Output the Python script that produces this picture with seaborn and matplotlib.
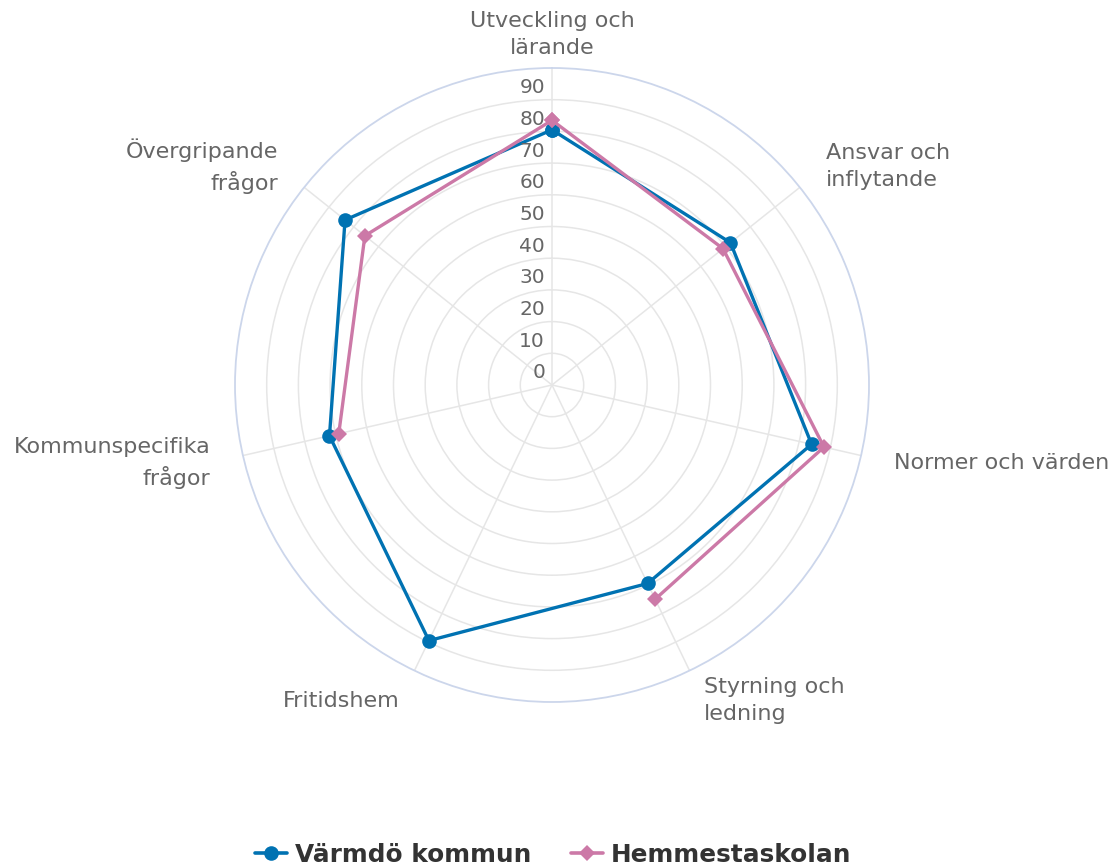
import numpy as np
import pandas as pd
import matplotlib
matplotlib.use("Agg")
import matplotlib.pyplot as plt
from matplotlib.lines import Line2D
import seaborn as sns

# Survey areas and average scores per organisation
categories = [
    "Utveckling och\nlärande",
    "Ansvar och\ninflytande",
    "Normer och värden",
    "Styrning och\nledning",
    "Fritidshem",
    "Kommunspecifika\nfrågor",
    "Övergripande\nfrågor",
]
series_names = ["Värmdö kommun", "Hemmestaskolan"]
varmdo = [80.5, 72, 84, 69.5, 89.5, 72, 83.5]
hemmesta = [83.5, 69, 88, 75, np.nan, 69, 75.5]
radial_ticks = [0, 10, 20, 30, 40, 50, 60, 70, 80, 90]

colors = {"Värmdö kommun": "#0072B2", "Hemmestaskolan": "#CC79A7"}
markers = {"Värmdö kommun": "o", "Hemmestaskolan": "D"}
msizes = {"Värmdö kommun": 10.5, "Hemmestaskolan": 8}

sns.set_style("white")
plt.rcParams["font.family"] = ["DejaVu Sans"]

n = len(categories)
angles = np.arange(n) * 2 * np.pi / n


def segments(values):
    """Split a closed polygon into runs of consecutive non-missing points."""
    vals = list(values) + [values[0]]
    thetas = list(angles) + [2 * np.pi]
    segs, cur = [], []
    for t, v in zip(thetas, vals):
        if np.isnan(v):
            if cur:
                segs.append(cur)
            cur = []
        else:
            cur.append((t, v))
    if cur:
        segs.append(cur)
    rows = []
    for i, seg in enumerate(segs):
        for t, v in seg:
            rows.append({"theta": t, "value": v, "segment": i})
    return pd.DataFrame(rows)


fig = plt.figure(figsize=(11.15, 8.68), dpi=100)
W, H = 1115, 868
cx, cy, R = 552, 385, 317
ax = fig.add_axes([(cx - R) / W, (H - cy - R) / H, 2 * R / W, 2 * R / H],
                  projection="polar")
ax.set_theta_zero_location("N")
ax.set_theta_direction(-1)
ax.set_ylim(0, 100)

# Grid: concentric rings and spokes
ax.set_yticks(radial_ticks[1:])
ax.set_yticklabels([])
ax.set_xticks(angles)
ax.set_xticklabels([])
ax.grid(True, color="#e6e6e6", linewidth=1.1)
ax.spines["polar"].set_color("#ccd6eb")
ax.spines["polar"].set_linewidth(1.3)
ax.tick_params(length=0)

for name, vals in zip(series_names, [varmdo, hemmesta]):
    df = segments(vals)
    for seg_id, seg in df.groupby("segment"):
        sns.lineplot(data=seg, x="theta", y="value", ax=ax, sort=False,
                     estimator=None, color=colors[name], linewidth=2.4,
                     marker=markers[name], markersize=msizes[name],
                     markeredgewidth=0, legend=False)

ax.set_xlabel("")
ax.set_ylabel("")
ax.set_ylim(0, 100)

# Radial value labels along the vertical spoke
for v in radial_ticks:
    ax.annotate(str(v), xy=(0, v), xytext=(-7, 12), textcoords="offset pixels",
                ha="right", va="center", fontsize=14.5, color="#666666")

# Category labels outside the outer ring
label_r = 110.6
for ang, lab in zip(angles, categories):
    s = np.sin(ang)
    if abs(s) < 1e-6:
        ha = "center"
    elif s > 0:
        ha = "left"
    else:
        ha = "right"
    ax.text(ang, label_r, lab, ha=ha, va="center", multialignment=ha,
            fontsize=16, color="#666666", linespacing=1.45)

handles = [
    Line2D([], [], color=colors[nm], linewidth=2.6, marker=markers[nm],
           markersize=msizes[nm], markeredgewidth=0)
    for nm in series_names
]
leg = fig.legend(handles, series_names, loc="center",
                 bbox_to_anchor=(0.496, 1 - 855 / H), ncol=2, frameon=False,
                 prop={"weight": "bold", "size": 17.8}, handlelength=1.3,
                 columnspacing=1.6, handletextpad=0.32)
for t in leg.get_texts():
    t.set_color("#333333")

fig.savefig("out.png", dpi=100)
